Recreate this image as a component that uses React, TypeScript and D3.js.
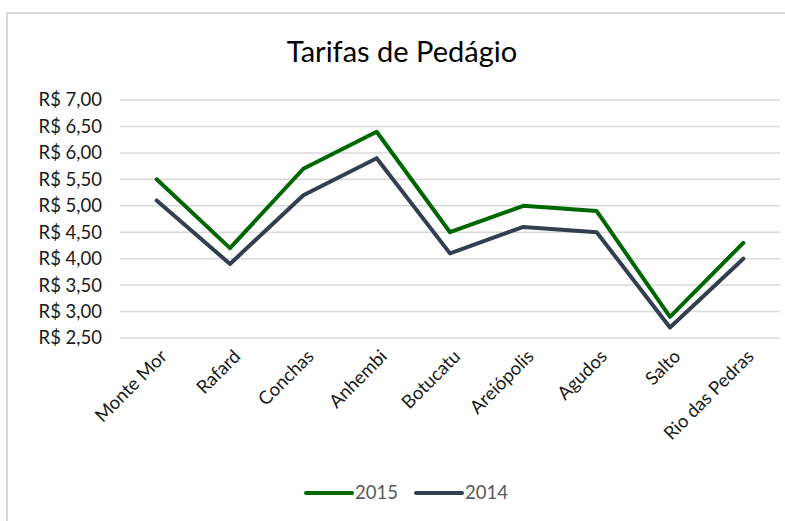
import React, { useRef, useEffect } from 'react';
import * as d3 from 'd3';

const cities = ['Monte Mor', 'Rafard', 'Conchas', 'Anhembi', 'Botucatu', 'Areiópolis', 'Agudos', 'Salto', 'Rio das Pedras'];
const values2015 = [5.5, 4.2, 5.7, 6.4, 4.5, 5.0, 4.9, 2.9, 4.3];
const values2014 = [5.1, 3.9, 5.2, 5.9, 4.1, 4.6, 4.5, 2.7, 4.0];
const yTicks = [2.5, 3, 3.5, 4, 4.5, 5, 5.5, 6, 6.5, 7];

const series = [
  { name: '2015', values: values2015, color: '#006600' },
  { name: '2014', values: values2014, color: '#333f50' },
];

const width = 785;
const height = 521;
const font = 'Lato, "Open Sans", sans-serif';

const App = () => {
  const svgRef = useRef<SVGSVGElement>(null);

  useEffect(() => {
    const svg = d3.select(svgRef.current);
    svg.selectAll('*').remove();

    const marginLeft = 120;
    const marginRight = 5;
    const top = 100;
    const bottom = 338;

    const x = d3.scaleBand<string>()
      .domain(cities)
      .range([marginLeft, width - marginRight]);

    const y = d3.scaleLinear()
      .domain([2.5, 7])
      .range([bottom, top]);

    // chart border
    svg.append('rect')
      .attr('x', 7)
      .attr('y', 13)
      .attr('width', width + 20)
      .attr('height', height + 20)
      .attr('fill', '#fff')
      .attr('stroke', '#d9d9d9')
      .attr('stroke-width', 2);

    svg.append('text')
      .attr('x', 402)
      .attr('y', 62)
      .attr('text-anchor', 'middle')
      .attr('font-family', font)
      .attr('font-size', 29)
      .attr('fill', '#000')
      .text('Tarifas de Pedágio');

    // gridlines
    svg.append('g')
      .selectAll('line')
      .data(yTicks)
      .join('line')
      .attr('x1', marginLeft)
      .attr('x2', width - marginRight)
      .attr('y1', d => y(d))
      .attr('y2', d => y(d))
      .attr('stroke', '#d9d9d9')
      .attr('stroke-width', 1.5);

    const fmt = (v: number) => 'R$ ' + v.toFixed(2).replace('.', ',');

    svg.append('g')
      .selectAll('text')
      .data(yTicks)
      .join('text')
      .attr('x', 102)
      .attr('y', d => y(d))
      .attr('dy', '0.35em')
      .attr('text-anchor', 'end')
      .attr('font-family', font)
      .attr('font-size', 18.5)
      .attr('fill', '#1a1a1a')
      .text(d => fmt(d));

    // x labels
    svg.append('g')
      .selectAll('text')
      .data(cities)
      .join('text')
      .attr('transform', d => `translate(${x(d)! + x.bandwidth() / 2 + 7},${bottom + 15}) rotate(-45)`)
      .attr('text-anchor', 'end')
      .attr('dy', '0.35em')
      .attr('font-family', font)
      .attr('font-size', 18.5)
      .attr('fill', '#1a1a1a')
      .text(d => d);

    const line = d3.line<number>()
      .x((d, i) => x(cities[i])! + x.bandwidth() / 2)
      .y(d => y(d));

    series.forEach(s => {
      svg.append('path')
        .datum(s.values)
        .attr('fill', 'none')
        .attr('stroke', s.color)
        .attr('stroke-width', 4)
        .attr('stroke-linejoin', 'round')
        .attr('stroke-linecap', 'round')
        .attr('d', line);
    });

    // legend
    const legend = svg.append('g')
      .selectAll('g')
      .data(series)
      .join('g')
      .attr('transform', (d, i) => `translate(${306 + i * 110},493)`);

    legend.append('line')
      .attr('x1', 0)
      .attr('x2', 46)
      .attr('stroke', d => d.color)
      .attr('stroke-width', 4)
      .attr('stroke-linecap', 'round');

    legend.append('text')
      .attr('x', 49)
      .attr('dy', '0.35em')
      .attr('font-family', font)
      .attr('font-size', 18.5)
      .attr('fill', '#595959')
      .text(d => d.name);
  }, []);

  return (
    <svg
      ref={svgRef}
      width={width}
      height={height}
      style={{ position: 'absolute', left: 0, top: 0 }}
    />
  );
};

export default App;
